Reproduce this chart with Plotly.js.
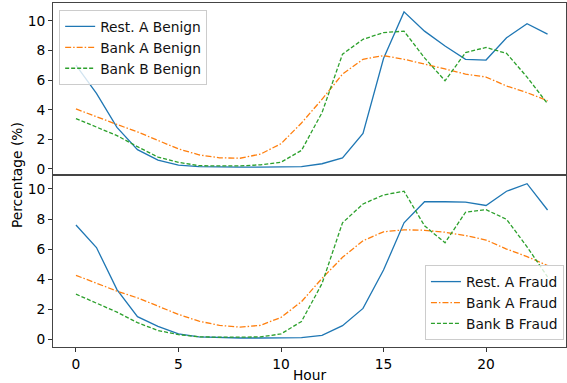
<!DOCTYPE html>
<html>
<head>
<meta charset="utf-8">
<script src="https://cdn.plot.ly/plotly-3.0.1.min.js"></script>
<style>html,body{margin:0;padding:0;background:#fff;}#chart{width:567px;height:383px;}</style>
</head>
<body>
<div id="chart"></div>
<script>
const hours = [0,1,2,3,4,5,6,7,8,9,10,11,12,13,14,15,16,17,18,19,20,21,22,23];

const restABenign = [7.0,5.1,2.8,1.3,0.6,0.25,0.15,0.12,0.12,0.12,0.12,0.15,0.35,0.75,2.4,7.45,10.6,9.3,8.3,7.4,7.35,8.85,9.8,9.1];
const bankABenign = [4.05,3.5,3.0,2.5,1.9,1.35,0.95,0.75,0.72,1.0,1.7,3.1,4.7,6.4,7.4,7.65,7.4,7.1,6.75,6.4,6.2,5.6,5.15,4.6];
const bankBBenign = [3.4,2.85,2.25,1.5,0.8,0.45,0.22,0.2,0.2,0.28,0.45,1.25,3.8,7.75,8.75,9.2,9.3,7.5,5.95,7.85,8.2,7.8,6.2,4.4];

const restAFraud = [7.6,6.1,3.3,1.5,0.85,0.35,0.15,0.1,0.08,0.08,0.08,0.1,0.25,0.9,2.05,4.6,7.75,9.15,9.15,9.12,8.9,9.85,10.35,8.6];
const bankAFraud = [4.25,3.7,3.2,2.75,2.2,1.65,1.2,0.92,0.8,0.92,1.45,2.5,4.05,5.45,6.55,7.15,7.28,7.25,7.12,6.9,6.6,6.0,5.5,4.9];
const bankBFraud = [3.0,2.42,1.8,1.1,0.58,0.3,0.16,0.13,0.13,0.15,0.35,1.18,3.7,7.75,9.0,9.6,9.85,7.55,6.42,8.45,8.62,7.98,6.15,4.15];

const cBlue = '#1f77b4', cOrange = '#ff7f0e', cGreen = '#2ca02c';
const font = 'DejaVu Sans, sans-serif';
const fs = 13.8;

function tr(y, name, color, dash, xa, ya, leg){
  return {x: hours, y: y, name: name, type:'scatter', mode:'lines',
    line:{color:color, width:1.3, dash:dash}, xaxis:xa, yaxis:ya, legend:leg};
}

const data = [
  tr(restABenign,'Rest. A Benign',cBlue,'solid','x','y','legend'),
  tr(bankABenign,'Bank A Benign',cOrange,'6px,2px,1.5px,2px','x','y','legend'),
  tr(bankBBenign,'Bank B Benign',cGreen,'4px,2px','x','y','legend'),
  tr(restAFraud,'Rest. A Fraud',cBlue,'solid','x2','y2','legend2'),
  tr(bankAFraud,'Bank A Fraud',cOrange,'6px,2px,1.5px,2px','x2','y2','legend2'),
  tr(bankBFraud,'Bank B Fraud',cGreen,'4px,2px','x2','y2','legend2')
];

const axBase = {showgrid:false, zeroline:false, showline:true, mirror:true, linecolor:'#444', linewidth:1,
  ticks:'outside', ticklen:4, tickwidth:1, tickcolor:'#333', tickfont:{family:font,size:fs,color:'#000'}};

const legBase = {bgcolor:'rgba(255,255,255,0.8)', bordercolor:'#ccc', borderwidth:1,
  font:{family:font,size:fs,color:'#111'}, itemwidth:30, tracegroupgap:0};

const layout = {
  width:567, height:383,
  margin:{l:53, r:1, t:3, b:36},
  paper_bgcolor:'#fff', plot_bgcolor:'#fff',
  font:{family:font, size:fs, color:'#000'},
  xaxis: Object.assign({}, axBase, {domain:[0,1], range:[-1.12,23.9], anchor:'y', showticklabels:false, ticks:'', matches:'x2'}),
  yaxis: Object.assign({}, axBase, {domain:[0.5,1], range:[-0.41,11.2], tickvals:[0,2,4,6,8,10], anchor:'x'}),
  xaxis2: Object.assign({}, axBase, {domain:[0,1], range:[-1.12,23.9], anchor:'y2', tickvals:[0,5,10,15,20],
    title:{text:'Hour', font:{family:font,size:fs,color:'#000'}, standoff:2}}),
  yaxis2: Object.assign({}, axBase, {domain:[0,0.5], range:[-0.52,10.93], tickvals:[0,2,4,6,8,10], anchor:'x2'}),
  legend: Object.assign({}, legBase, {x:0.012, y:0.98, xanchor:'left', yanchor:'top'}),
  legend2: Object.assign({}, legBase, {x:0.996, y:0.02, xanchor:'right', yanchor:'bottom'}),
  annotations:[{text:'Percentage (%)', xref:'paper', yref:'paper', x:-0.07, y:0.5, xanchor:'center', yanchor:'middle',
    textangle:-90, showarrow:false, font:{family:font,size:fs,color:'#000'}}]
};

Plotly.newPlot('chart', data, layout, {displayModeBar:false, staticPlot:true});
</script>
</body>
</html>
